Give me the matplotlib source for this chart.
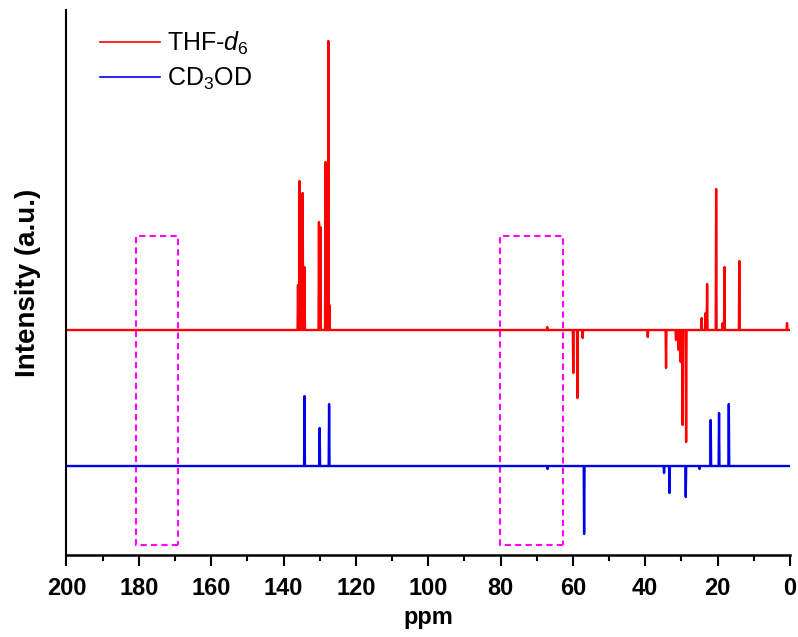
import numpy as np
import matplotlib
matplotlib.use('Agg')
import matplotlib.pyplot as plt
from matplotlib.patches import Rectangle
from matplotlib.ticker import MultipleLocator

plt.rcParams['font.family'] = ['Liberation Sans', 'DejaVu Sans']
plt.rcParams['mathtext.fontset'] = 'custom'
plt.rcParams['mathtext.rm'] = 'Liberation Sans'
plt.rcParams['mathtext.it'] = 'Liberation Sans:italic'

# peak positions (ppm) and heights (a.u., + up / - down)
thf_ppm = [136.0, 135.6, 134.7, 134.2, 130.2, 129.8, 128.4, 127.6, 127.3,
           67.1, 59.9, 58.75, 57.3, 39.3, 34.25, 31.5, 30.75, 30.2, 29.65, 28.7,
           24.4, 23.3, 22.9, 20.4, 18.6, 18.1, 14.0, 0.8]
thf_int = [45, 149, 137, 63, 108, 103, 168, 289, 25,
           3, -43, -68, -8, -7, -38, -10, -20, -32, -95, -112,
           12, 17, 46, 141, 7, 63, 69, 7]

cd3od_ppm = [134.2, 130.0, 127.4, 67.0, 56.9, 34.8, 33.3, 28.8, 25.0, 21.9, 19.6, 16.9]
cd3od_int = [70, 38, 62, -3, -68, -7, -27, -31, -3, 46, 53, 62]

# dashed boxes (ppm from, ppm to)
boxes = [(180.9, 169.3), (80.1, 62.7)]


def stick_trace(ppm, inten, w=0.12):
    order = np.argsort(ppm)[::-1]
    xs, ys = [200.0], [0.0]
    for i in order:
        p, h = ppm[i], inten[i]
        xs += [p + w, p, p - w]
        ys += [0.0, h, 0.0]
    xs.append(0.0)
    ys.append(0.0)
    return np.array(xs), np.array(ys)


fig = plt.figure(figsize=(7.98, 6.37), dpi=100)
ax = fig.add_axes([0.0833, 0.1287, 0.9066, 0.8556])

red_off, blue_off = 225, 89

x1, y1 = stick_trace(thf_ppm, thf_int)
x2, y2 = stick_trace(cd3od_ppm, cd3od_int)
ax.plot(x1, y1 + red_off, color='#ff0000', lw=1.7, label='THF-$\\mathit{d_6}$')
ax.plot(x2, y2 + blue_off, color='#0000ee', lw=1.7, label='CD$_3$OD')

for a, b in boxes:
    ax.add_patch(Rectangle((b, 10), a - b, 309, fill=False, edgecolor='#ff00ff',
                           lw=1.5, linestyle=(0, (3, 2))))

ax.set_xlim(200, 0)
ax.set_ylim(0, 545)
ax.xaxis.set_major_locator(MultipleLocator(20))
ax.xaxis.set_minor_locator(MultipleLocator(10))
ax.set_yticks([])
ax.spines['top'].set_visible(False)
ax.spines['right'].set_visible(False)
ax.spines['left'].set_linewidth(1.5)
ax.spines['bottom'].set_linewidth(1.8)
ax.tick_params(axis='x', which='major', length=8, width=1.5, direction='out', labelsize=17, pad=8)
ax.tick_params(axis='x', which='minor', length=4.5, width=1.5, direction='out')
for t in ax.get_xticklabels():
    t.set_fontweight('bold')

ax.set_xlabel('ppm', fontsize=17, fontweight='bold', labelpad=4)
ax.set_ylabel('Intensity (a.u.)', fontsize=20, fontweight='bold', labelpad=18)

leg = ax.legend(loc='upper left', bbox_to_anchor=(0.015, 1.005), frameon=False, fontsize=18,
                handlelength=2.4, handletextpad=0.3, labelspacing=0.35)
for l in leg.get_lines():
    l.set_linewidth(1.2)

fig.savefig('out.png', dpi=100)
